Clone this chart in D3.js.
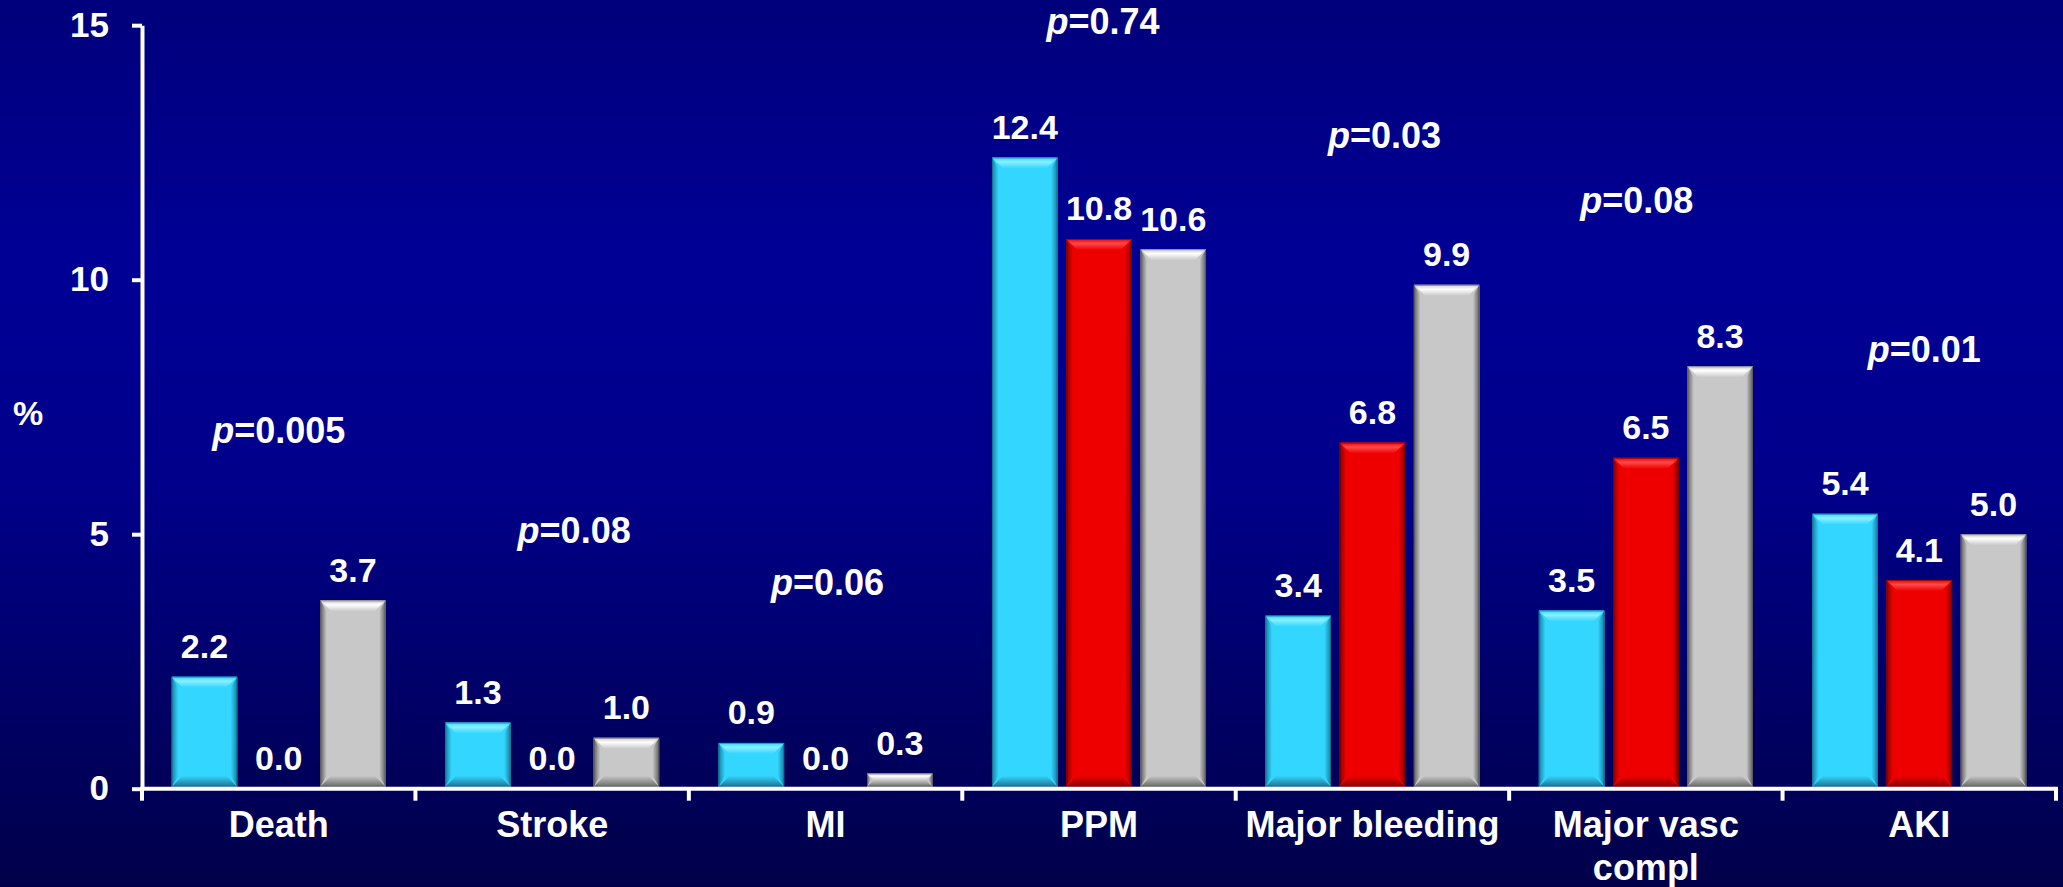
<!DOCTYPE html>
<html>
<head>
<meta charset="utf-8">
<script src="https://cdn.jsdelivr.net/npm/d3@7"></script>
<style>
  html, body { margin: 0; padding: 0; background: #000060; }
  svg { display: block; }
  text { font-family: "Liberation Sans", Arial, Helvetica, sans-serif; font-weight: bold; fill: #ffffff; }
</style>
</head>
<body>
<div id="chart"></div>
<script>
// Event rates (%) per outcome for the three groups
const categories = ["Death", "Stroke", "MI", "PPM", "Major bleeding", "Major vasc\ncompl", "AKI"];
const seriesKeys = ["cyan", "red", "grey"];
const cyanValues = [2.2, 1.3, 0.9, 12.4, 3.4, 3.5, 5.4];
const redValues  = [0.0, 0.0, 0.0, 10.8, 6.8, 6.5, 4.1];
const greyValues = [3.7, 1.0, 0.3, 10.6, 9.9, 8.3, 5.0];
const pValues = ["0.005", "0.08", "0.06", "0.74", "0.03", "0.08", "0.01"];
const yTicks = [0, 5, 10, 15];
const yLabel = "%";

// Placement of each p-value annotation: height in axis units, horizontal nudge in px
const pLabelLevel = [6.8, 4.82, 3.8, 14.82, 12.58, 11.31, 8.39];
const pLabelShift = [0, 22, 2, 4, 12, -9, 5];

const W = 2063, H = 887;
const svg = d3.select("#chart").append("svg").attr("width", W).attr("height", H);
const defs = svg.append("defs");

// Background: navy gradient, brighter in the upper middle, darkening to the bottom
const bg = defs.append("linearGradient").attr("id", "bg").attr("x1", 0).attr("y1", 0).attr("x2", 0).attr("y2", 1);
[[0, "#00007c"], [0.3, "#000096"], [0.55, "#00008a"], [0.82, "#000062"], [1, "#00004a"]]
  .forEach(([o, c]) => bg.append("stop").attr("offset", o).attr("stop-color", c));
svg.append("rect").attr("width", W).attr("height", H).attr("fill", "url(#bg)");

const x0 = d3.scaleBand().domain(categories).range([142, 2056]).padding(0);
const x1 = d3.scaleBand().domain(seriesKeys).range([0, x0.bandwidth()]).paddingInner(0.1165).paddingOuter(0.4);
const y = d3.scaleLinear().domain([0, 15]).range([788.7, 25.2]);

const palette = {
  cyan: { face: "#33d6ff", top: "#8af0ff", side: "#167fa0", bottom: "#1d7391", edge: "#0f5d7a" },
  red:  { face: "#ee0000", top: "#ff4a4a", side: "#860000", bottom: "#8a0000", edge: "#600000" },
  grey: { face: "#c8c8c8", top: "#ffffff", side: "#5e5e5e", bottom: "#6a6a6a", edge: "#4a4a4a" }
};

// Gradients for the bevelled bar edges
seriesKeys.forEach(k => {
  const p = palette[k];
  const gl = defs.append("linearGradient").attr("id", "l-" + k).attr("x1", 0).attr("x2", 1).attr("y1", 0).attr("y2", 0);
  gl.append("stop").attr("offset", 0).attr("stop-color", p.side);
  gl.append("stop").attr("offset", 1).attr("stop-color", p.face);
  const gr = defs.append("linearGradient").attr("id", "r-" + k).attr("x1", 0).attr("x2", 1).attr("y1", 0).attr("y2", 0);
  gr.append("stop").attr("offset", 0).attr("stop-color", p.face);
  gr.append("stop").attr("offset", 1).attr("stop-color", p.side);
  const gt = defs.append("linearGradient").attr("id", "t-" + k).attr("x1", 0).attr("x2", 0).attr("y1", 0).attr("y2", 1);
  gt.append("stop").attr("offset", 0).attr("stop-color", p.face);
  gt.append("stop").attr("offset", 0.4).attr("stop-color", p.top);
  gt.append("stop").attr("offset", 1).attr("stop-color", p.face);
  const gb = defs.append("linearGradient").attr("id", "b-" + k).attr("x1", 0).attr("x2", 0).attr("y1", 0).attr("y2", 1);
  gb.append("stop").attr("offset", 0).attr("stop-color", p.face);
  gb.append("stop").attr("offset", 1).attr("stop-color", p.bottom);
});

const rows = categories.map((c, i) => ({
  category: c,
  values: [
    { key: "cyan", value: cyanValues[i] },
    { key: "red", value: redValues[i] },
    { key: "grey", value: greyValues[i] }
  ]
}));

const groups = svg.append("g").selectAll("g").data(rows).join("g")
  .attr("transform", d => `translate(${x0(d.category)},0)`);

groups.each(function (row) {
  const g = d3.select(this);
  row.values.forEach(d => {
    const bx = x1(d.key), bw = x1.bandwidth();
    const top = y(d.value), base = y(0) - 2;
    const h = base - top;
    if (h > 0.5) {
      const b = Math.min(11, h / 2);
      const bar = g.append("g");
      bar.append("rect").attr("x", bx).attr("y", top).attr("width", bw).attr("height", h)
        .attr("fill", palette[d.key].face);
      const pts = a => a.map(p => p.join(",")).join(" ");
      bar.append("polygon").attr("fill", `url(#t-${d.key})`)
        .attr("points", pts([[bx, top], [bx + bw, top], [bx + bw - b, top + b], [bx + b, top + b]]));
      bar.append("polygon").attr("fill", `url(#b-${d.key})`)
        .attr("points", pts([[bx + b, base - b], [bx + bw - b, base - b], [bx + bw, base], [bx, base]]));
      bar.append("polygon").attr("fill", `url(#l-${d.key})`)
        .attr("points", pts([[bx, top], [bx + b * 0.6, top + b], [bx + b * 0.6, base - b], [bx, base]]));
      bar.append("polygon").attr("fill", `url(#r-${d.key})`)
        .attr("points", pts([[bx + bw - b * 0.6, top + b], [bx + bw, top], [bx + bw, base], [bx + bw - b * 0.6, base - b]]));
      bar.append("rect").attr("x", bx + 0.5).attr("y", top + 0.5).attr("width", bw - 1).attr("height", h - 1)
        .attr("fill", "none").attr("stroke", palette[d.key].edge).attr("stroke-opacity", 0.5).attr("stroke-width", 1);
    }
    g.append("text")
      .attr("x", bx + x1.bandwidth() / 2)
      .attr("y", y(d.value) - 18.5)
      .attr("text-anchor", "middle")
      .attr("font-size", 34)
      .text(d3.format(".1f")(d.value));
  });
});

// p-value annotations above each outcome
const pText = svg.append("g").selectAll("text").data(categories).join("text")
  .attr("x", (d, i) => x0(d) + x0.bandwidth() / 2 + pLabelShift[i])
  .attr("y", (d, i) => y(pLabelLevel[i]))
  .attr("text-anchor", "middle")
  .attr("font-size", 36);
pText.append("tspan").attr("font-style", "italic").text("p");
pText.append("tspan").text((d, i) => "=" + pValues[i]);

// Y axis
const yAxis = svg.append("g").attr("transform", "translate(142,0)")
  .call(d3.axisLeft(y).tickValues(yTicks).tickSizeInner(10).tickSizeOuter(0).tickPadding(23).tickFormat(d3.format("d")));
yAxis.select(".domain").attr("stroke", "#fff").attr("stroke-width", 4);
yAxis.selectAll(".tick line").attr("stroke", "#fff").attr("stroke-width", 4);
yAxis.selectAll(".tick text").attr("font-size", 35).attr("fill", "#fff")
  .attr("font-family", "Liberation Sans, Arial, sans-serif").attr("font-weight", "bold");

svg.append("text").attr("x", 28).attr("y", 425).attr("text-anchor", "middle")
  .attr("font-size", 34).text(yLabel);

// X axis: baseline with separators between outcomes
const xAxis = svg.append("g");
xAxis.append("line").attr("x1", x0.range()[0] - 2).attr("x2", x0.range()[1] + 2)
  .attr("y1", y(0)).attr("y2", y(0)).attr("stroke", "#fff").attr("stroke-width", 4);
const bounds = categories.map(c => x0(c)).concat([x0.range()[1]]);
xAxis.selectAll("line.sep").data(bounds).join("line").attr("class", "sep")
  .attr("x1", d => d).attr("x2", d => d)
  .attr("y1", y(0)).attr("y2", y(0) + 12)
  .attr("stroke", "#fff").attr("stroke-width", 4);

const catLabels = xAxis.selectAll("text.cat").data(categories).join("text").attr("class", "cat")
  .attr("text-anchor", "middle").attr("font-size", 36)
  .attr("transform", d => `translate(${x0(d) + x0.bandwidth() / 2},${y(0) + 48})`);
catLabels.selectAll("tspan").data(d => d.split("\n")).join("tspan")
  .attr("x", 0).attr("dy", (d, i) => i === 0 ? 0 : 43.5).text(d => d);
</script>
</body>
</html>
